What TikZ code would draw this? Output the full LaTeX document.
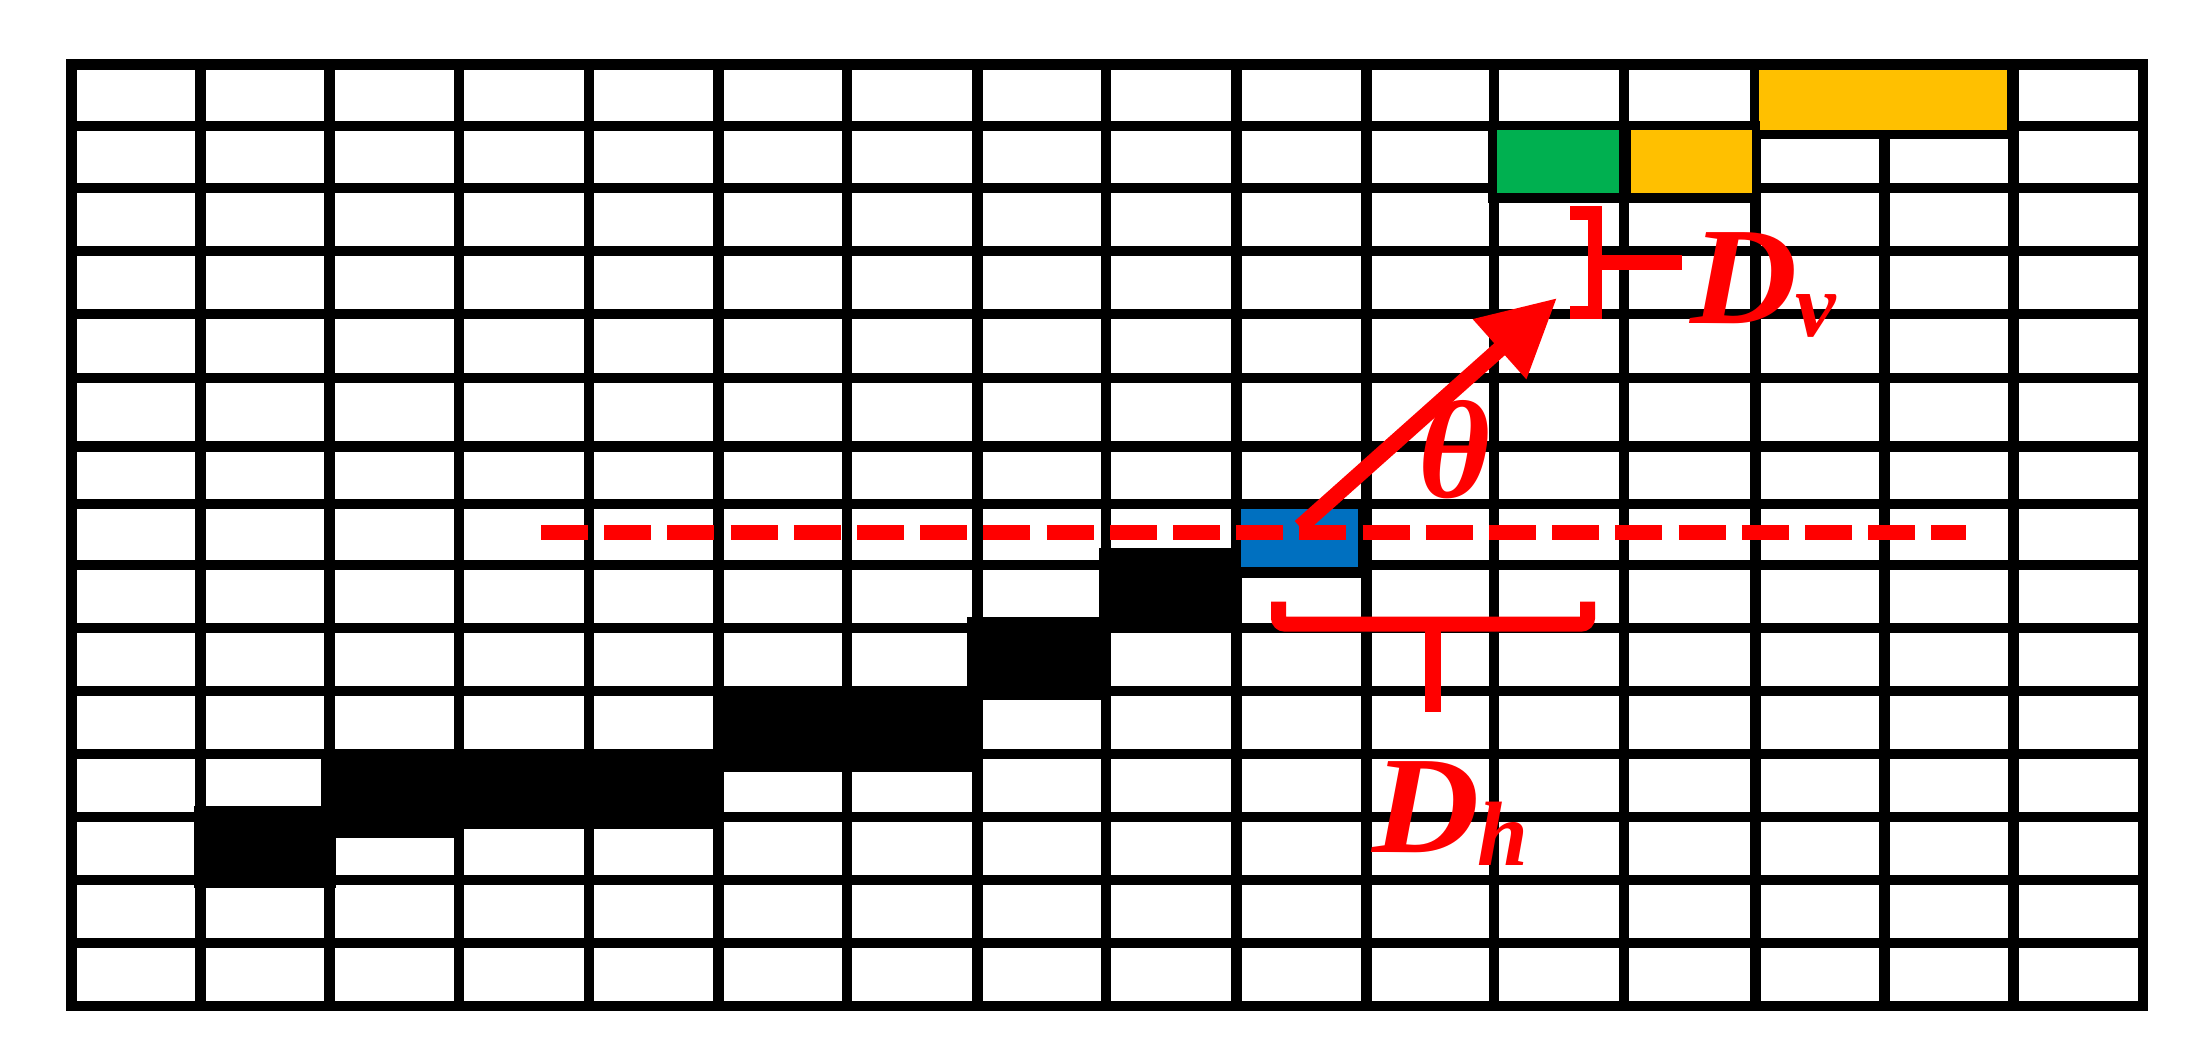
\documentclass[tikz,border=0pt]{standalone}
\usepackage{fontspec}
\setmainfont{Liberation Serif}
\usetikzlibrary{arrows.meta}
\definecolor{cyel}{HTML}{FFC000}
\definecolor{cgrn}{HTML}{00B050}
\definecolor{cblu}{HTML}{0070C0}
\definecolor{cred}{HTML}{FF0000}
\newcommand{\wideD}{\scalebox{1.07}[1]{D}}
\begin{document}
\begin{tikzpicture}[x=0.1mm,y=-0.1mm,
  gridline/.style={line width=1.05mm,line cap=rect},
  blk/.style={fill=black},
  redstroke/.style={draw=cred,line width=1.45mm},
  lbl/.style={text=cred,font=\fontsize{39.5}{40}\selectfont\bfseries\itshape,inner sep=0pt,anchor=base west}]
\useasboundingbox[fill=white] (0,0) rectangle (2210,1061);
% grid
\foreach \x in {71.7,200.6,329.4,459.2,589,718.3,847.2,977.5,1105.8,1236.5,1366.5,1494,1624,1755.4,1884.5,2013.6,2142.8}
  \draw[gridline] (\x,64.5) -- (\x,1006);
\foreach \y in {64.5,126,188,251,314,378,446.5,504,565,628,691,754,817,880,943,1006}
  \draw[gridline] (71.7,\y) -- (2142.8,\y);
% coloured cells with black backing
\fill[black] (1751,64.5) rectangle (2013.6,139);
\fill[cyel] (1759,70) rectangle (2007,129.5);
\fill[black] (1488,121) rectangle (1760,203);
\fill[cgrn] (1497,130) rectangle (1618.5,193);
\fill[cyel] (1631,130) rectangle (1751.5,193);
\fill[black] (1231,499) rectangle (1368,578);
\fill[cblu] (1240.7,508.5) rectangle (1358.3,566.7);
% black staircase blocks
\fill[blk] (193.5,806) rectangle (336,888);
\fill[blk] (321,758) rectangle (724.4,829);
\fill[blk] (321,758) rectangle (456,838);
\fill[blk] (714,686) rectangle (983,772);
\fill[blk] (966.6,617.4) rectangle (1110.6,699.6);
\fill[blk] (1098.8,548.3) rectangle (1240.4,632.4);
% red dashed reference line
\coordinate (dl) at (541,532.5);
\coordinate (dr) at (1966,532.5);
\draw[cred,line width=1.45mm,dash pattern=on 4.7mm off 1.62mm] (dl) -- (dr);
% arrow
\coordinate (o) at (1300,527);
\coordinate (tip) at (1557,298);
\draw[cred,line width=1.6mm,-{Triangle[length=7.7mm,width=7.6mm]}] (o) -- (tip);
% Dv bracket
\coordinate (v1) at (1570,213.3);
\coordinate (v2) at (1595,213.3);
\coordinate (v3) at (1595,312.5);
\coordinate (v4) at (1570,312.5);
\coordinate (vm) at (1595,262.5);
\coordinate (vt) at (1682,262.5);
\draw[redstroke,line width=1.38mm] (v1) -- (v2) -- (v3) -- (v4);
\draw[redstroke,line width=1.5mm] (vm) -- (vt);
% Dh bracket
\coordinate (h1) at (1278.5,601.7);
\coordinate (h2) at (1278.5,624);
\coordinate (h3) at (1587.5,624);
\coordinate (h4) at (1587.5,601.7);
\coordinate (hm) at (1433,624);
\coordinate (hb) at (1433,711.7);
\draw[redstroke,line width=1.5mm,rounded corners=0.6mm] (h1) -- (h2) -- (h3) -- (h4);
\draw[redstroke,line width=1.6mm] (hm) -- (hb);
% labels
\node[lbl] (theta) at (1418,497) {θ};
\node[lbl] (dv) at (1690,323) {\wideD\kern-0.3mm\raisebox{-1.3mm}{\fontsize{26}{26}\selectfont v}};
\node[lbl] (dh) at (1372,852) {\wideD\kern-0.3mm\raisebox{-1.3mm}{\fontsize{26}{26}\selectfont h}};
\end{tikzpicture}
\end{document}
